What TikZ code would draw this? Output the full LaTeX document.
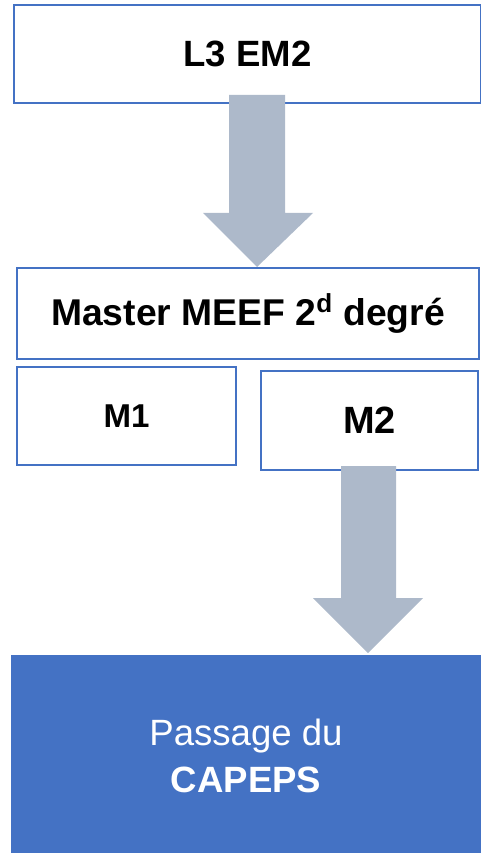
\documentclass[tikz,border=0pt]{standalone}
\usepackage{fontspec}
\setmainfont{Liberation Sans}
\usepackage{tikz}
\usetikzlibrary{positioning}

\definecolor{boxblue}{HTML}{4472C4}
\definecolor{arrowgray}{HTML}{ADB9CA}

\begin{document}
\begin{tikzpicture}[x=0.025cm,y=-0.025cm,line width=1.2pt]
  \tikzstyle{every node}=[inner sep=0pt,align=center]
  \tikzstyle{stage}=[draw=boxblue,fill=white,font=\bfseries]
  \tikzstyle{goal}=[fill=boxblue,text=white]
  \tikzstyle{flow}=[fill=arrowgray,draw=none]

  \useasboundingbox (0,0) rectangle (480,853);

  \node[stage,minimum width=11.675cm,minimum height=2.45cm,
        font=\bfseries\fontsize{26}{31}\selectfont]   (L3)     at (247.5,54)  {L3 EM2};
  \node[stage,minimum width=11.55cm,minimum height=2.275cm,
        font=\bfseries\fontsize{26.5}{32}\selectfont] (master) at (248,313.5) {Master MEEF 2\textsuperscript{d} degré};
  \node[stage,minimum width=5.475cm,minimum height=2.45cm,
        font=\bfseries\fontsize{23.5}{28}\selectfont] (M1)     at (126.5,416) {M1};
  \node[stage,minimum width=5.425cm,minimum height=2.475cm,
        font=\bfseries\fontsize{27}{32}\selectfont]   (M2)     at (369.5,420.5) {M2};
  \node[goal,minimum width=11.75cm,minimum height=5.025cm,
        font=\fontsize{26}{33}\selectfont]            (capeps) at (246,756) {Passage du\\\textbf{CAPEPS}};

  % block arrows
  \fill[flow] (229,95) -- (285,95) -- (285,213) -- (313,213)
              -- (257,267) -- (203,213) -- (229,213) -- cycle;
  \fill[flow] (341,466) -- (396,466) -- (396,598) -- (423,598)
              -- (368,653) -- (313,598) -- (341,598) -- cycle;
\end{tikzpicture}
\end{document}
